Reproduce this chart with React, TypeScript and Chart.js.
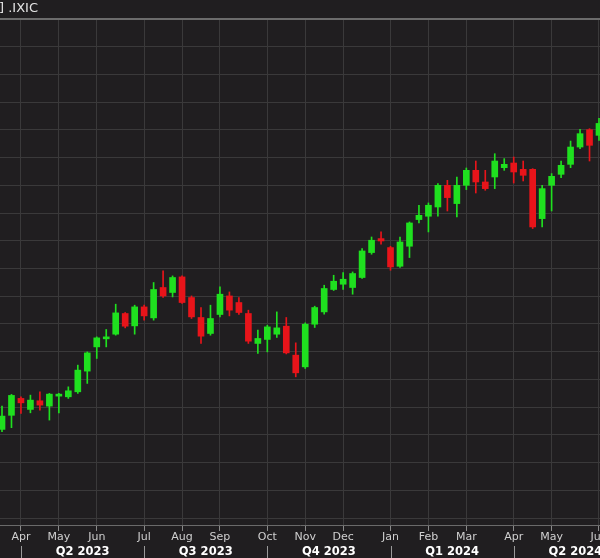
import React, { useEffect, useRef } from 'react';
import { Chart, registerables } from 'chart.js';

Chart.register(...registerables);

// Weekly candles, week of 20 Mar 2023 .. week of 3 Jun 2024 (.IXIC)
const opens = [
  11599, 11853, 12158, 11959, 12115, 12019, 12199, 12187, 12277, 12650,
  13087, 13232, 13316, 13689, 13466, 13808, 13610, 14158, 14068, 14349,
  13977, 13617, 13329, 13671, 14006, 13887, 13689, 13149, 13221, 13316,
  13460, 12938, 12727, 13496, 13718, 14122, 14217, 14158, 14338, 14788,
  15040, 14878, 14541, 14902, 15383, 15443, 15610, 16001, 15671, 16001,
  16271, 16061, 16151, 16319, 16403, 16289, 16289, 15400, 16001, 16199,
  16379, 16691, 17004, 16902,
];
const highs = [
  12019, 12230, 12187, 12217, 12277, 12248, 12248, 12367, 12758, 12997,
  13268, 13401, 13857, 13707, 13839, 13839, 14248, 14457, 14367, 14367,
  14006, 13797, 13839, 14168, 14078, 13977, 13749, 13388, 13478, 13718,
  13617, 13160, 13520, 13821, 14199, 14379, 14428, 14439, 14860, 15069,
  15160, 14902, 15069, 15340, 15641, 15683, 16031, 16091, 16151, 16313,
  16439, 16271, 16571, 16482, 16511, 16439, 16301, 16001, 16212, 16439,
  16799, 17010, 17022, 17207,
];
const lows = [
  11556, 11630, 11887, 11898, 11947, 11767, 11898, 12158, 12248, 12428,
  12878, 13087, 13298, 13430, 13316, 13569, 13569, 13980, 13988, 13869,
  13599, 13149, 13298, 13628, 13646, 13671, 13149, 12968, 12997, 13257,
  12960, 12547, 12698, 13437, 13677, 14104, 14122, 14037, 14320, 14758,
  14938, 14469, 14518, 14698, 15322, 15160, 15443, 15538, 15430, 15923,
  15862, 15911, 15941, 16271, 16042, 16079, 15221, 15250, 15538, 16139,
  16319, 16662, 16439, 16812,
];
const closes = [
  11839, 12212, 12078, 12127, 12037, 12235, 12235, 12295, 12668, 12979,
  13250, 13268, 13700, 13460, 13808, 13646, 14122, 14006, 14338, 13887,
  13628, 13280, 13599, 14037, 13749, 13707, 13190, 13239, 13448, 13430,
  12979, 12619, 13496, 13797, 14140, 14271, 14307, 14410, 14817, 15010,
  14997, 14529, 14979, 15322, 15460, 15641, 16001, 15779, 16001, 16271,
  16061, 15941, 16439, 16379, 16241, 16181, 15250, 15941, 16163, 16361,
  16691, 16932, 16722, 17117,
];

const monthLabels = ['Apr', 'May', 'Jun', 'Jul', 'Aug', 'Sep', 'Oct', 'Nov', 'Dec', 'Jan', 'Feb', 'Mar', 'Apr', 'May', 'Jun'];
const monthTickIndex = [2, 6, 10, 15, 19, 23, 28, 32, 36, 41, 45, 49, 54, 58, 63];
const quarterLabels = ['Q2 2023', 'Q3 2023', 'Q4 2023', 'Q1 2024', 'Q2 2024'];
const quarterBounds = [2, 15, 28, 41, 54, 67];
const yTicks = [
  10000, 10500, 11000, 11500, 12000, 12500, 13000, 13500, 14000, 14500,
  15000, 15500, 16000, 16500, 17000, 17500, 18000, 18500, 19000,
];
const title = '] .IXIC';

const BG = '#201e20';
const GRID = '#3a393a';
const GREEN = '#1fe01f';
const RED = '#e8141a';

export default function App() {
  const ref = useRef<HTMLCanvasElement>(null);

  useEffect(() => {
    if (!ref.current) return;
    const idx = opens.map((_, i) => i);
    const colors = idx.map((i) => (closes[i] >= opens[i] ? GREEN : RED));

    const decor = {
      id: 'decor',
      beforeDraw(chart: any) {
        const { ctx, width, height } = chart;
        ctx.save();
        ctx.fillStyle = BG;
        ctx.fillRect(0, 0, width, height);
        ctx.restore();
      },
      afterDraw(chart: any) {
        const { ctx } = chart;
        const xs = chart.scales.x;
        const area = chart.chartArea;
        ctx.save();
        ctx.strokeStyle = '#6c6c6c';
        ctx.lineWidth = 2;
        ctx.beginPath();
        ctx.moveTo(0, area.top);
        ctx.lineTo(chart.width, area.top);
        ctx.stroke();
        ctx.fillStyle = '#e4e4e4';
        ctx.font = '13px "DejaVu Sans"';
        ctx.textAlign = 'left';
        ctx.textBaseline = 'middle';
        ctx.fillText(title, -1, 9);
        ctx.font = 'bold 11.5px "DejaVu Sans"';
        ctx.textAlign = 'center';
        ctx.fillStyle = '#ffffff';
        for (let q = 0; q < quarterLabels.length; q++) {
          const x0 = xs.getPixelForValue(quarterBounds[q]);
          const x1 = xs.getPixelForValue(quarterBounds[q + 1]);
          ctx.fillText(quarterLabels[q], (x0 + x1) / 2, 552);
        }
        ctx.strokeStyle = '#9a9a9a';
        ctx.lineWidth = 1;
        for (let q = 0; q < quarterLabels.length; q++) {
          const x0 = Math.round(xs.getPixelForValue(quarterBounds[q])) + 0.5;
          ctx.beginPath();
          ctx.moveTo(x0, 546);
          ctx.lineTo(x0, 558);
          ctx.stroke();
        }
        ctx.restore();
      },
    };

    const chart = new Chart(ref.current, {
      type: 'bar',
      data: {
        datasets: [
          {
            label: 'body',
            data: idx.map((i) => ({ x: i, y: [opens[i], closes[i]] })) as any,
            backgroundColor: colors,
            barThickness: 6,
            grouped: false,
            borderWidth: 0,
          },
          {
            label: 'wick',
            data: idx.map((i) => ({ x: i, y: [lows[i], highs[i]] })) as any,
            backgroundColor: colors,
            barThickness: 1,
            grouped: false,
            borderWidth: 0,
          },
        ],
      },
      options: {
        animation: false,
        responsive: false,
        maintainAspectRatio: false,
        layout: { padding: { top: 19, left: 0, right: 0, bottom: 0 } },
        plugins: {
          legend: { display: false },
          tooltip: { enabled: false },
          title: { display: false },
        },
        scales: {
          x: {
            type: 'linear',
            min: -0.211,
            max: 63.106,
            offset: false,
            afterBuildTicks: (s: any) => {
              s.ticks = monthTickIndex.map((v) => ({ value: v }));
            },
            afterFit: (s: any) => {
              s.height = 33;
              s.paddingLeft = 0;
              s.paddingRight = 0;
            },
            ticks: {
              autoSkip: false,
              maxRotation: 0,
              minRotation: 0,
              padding: 0,
              color: '#d0d0d0',
              font: { family: 'DejaVu Sans', size: 11 },
              callback: (_v: any, i: number) => monthLabels[i],
            },
            grid: { color: GRID, tickColor: '#8a8a8a', tickLength: 6, drawTicks: true, offset: false },
            border: { display: true, color: '#6a6a6a', width: 1 },
          },
          y: {
            type: 'linear',
            min: 9875,
            max: 19000,
            afterBuildTicks: (s: any) => {
              s.ticks = yTicks.map((v) => ({ value: v }));
            },
            afterFit: (s: any) => {
              s.width = 0;
              s.paddingTop = 0;
              s.paddingBottom = 0;
            },
            ticks: { display: false },
            grid: { color: GRID, drawTicks: false },
            border: { display: false },
          },
        },
      } as any,
      plugins: [decor],
    });

    return () => chart.destroy();
  }, []);

  return (
    <div style={{ position: 'fixed', left: 0, top: 0, width: 600, height: 558, background: BG }}>
      <canvas ref={ref} width={600} height={558} style={{ display: 'block' }} />
    </div>
  );
}
